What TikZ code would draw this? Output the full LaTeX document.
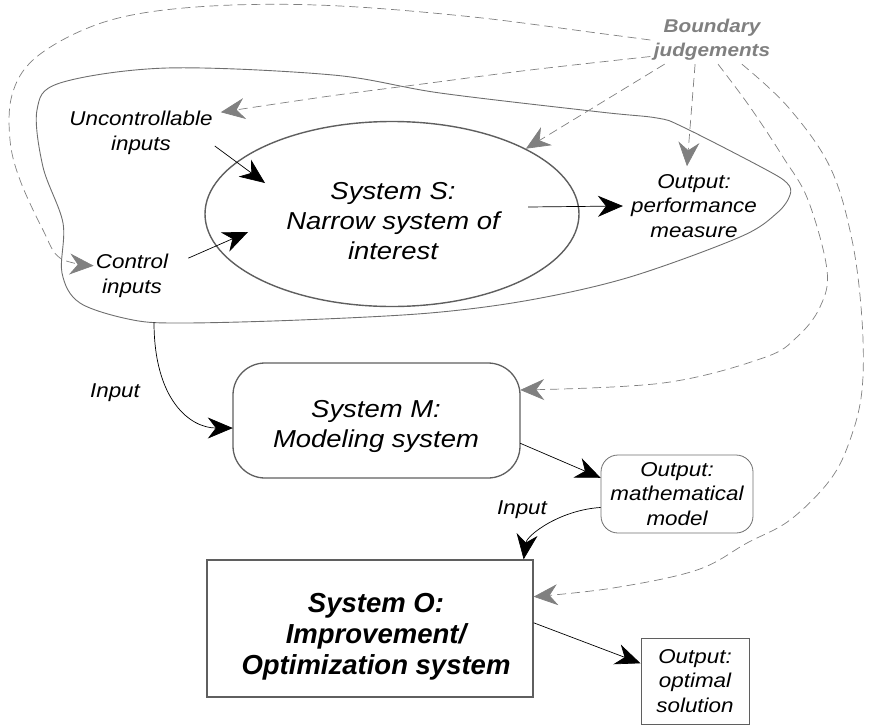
\documentclass[tikz,border=0pt]{standalone}
\usepackage{fontspec}
\setmainfont{Liberation Sans}[FakeStretch=1.12]
\newfontfamily\optfont{Liberation Sans}
\usetikzlibrary{arrows.meta, shapes.geometric}

\definecolor{judgegrey}{RGB}{128,128,128}
\definecolor{edgegrey}{RGB}{95,95,95}
\definecolor{wallgrey}{RGB}{110,110,110}

\tikzset{
    lbl/.style={font=\itshape\fontsize{20}{24.5}\selectfont, align=center, inner sep=2pt},
    bigtxt/.style={font=\itshape\fontsize{24.5}{30}\selectfont, align=center},
    flow/.style={-{Stealth[length=25pt,width=21pt,inset=8pt]}, line width=0.7pt},
    judge/.style={-{Stealth[length=24pt,width=21pt,inset=8pt]}, judgegrey,
        line width=0.7pt, dash pattern=on 9pt off 5pt}
}

\begin{document}
\begin{tikzpicture}[x=1pt, y=-1pt]
        \useasboundingbox (0,0) rectangle (870,726);

        % wider system boundary
        \draw[wallgrey, line width=0.9pt]
            plot[smooth cycle, tension=0.55] coordinates {
            (60,83) (167,68) (333,75) (440,93) (600,112) (657,118) (683,127)
            (763,168) (787,183) (790,195) (777,213) (740,237) (630,277)
            (530,300) (430,313) (300,320) (184,323) (133,320) (80,303)
            (62,273) (63,223) (43,167) (37,110)};

        \node[
            ellipse,
            draw=edgegrey,
            line width=1.4pt,
            minimum width=374pt,
            minimum height=185pt,
            inner sep=0pt
        ] (sys) at (392,214) {};
        \node[bigtxt] (systxt) at (393,221) {System S:\\Narrow system of\\interest};

        \node[lbl] (unc) at (141,133) {Uncontrollable\\inputs};
        \node[lbl] (ctrl) at (132,276) {Control\\inputs};
        \node[lbl, inner sep=8pt] (perf) at (694,206) {Output:\\performance\\measure};
        \node[
            font=\bfseries\itshape\fontsize{18.5}{24}\selectfont,
            text=judgegrey,
            align=center
        ] (bj) at (712,40) {Boundary\\judgements};

        \draw[
            draw=edgegrey,
            line width=1.3pt,
            rounded corners=32pt
        ] (233,363) rectangle (520,478);
        \node[
            minimum width=287pt,
            minimum height=115pt
        ] (modl) at (376.5,420.5) {};
        \node[bigtxt] (mtxt) at (376,426) {System M:\\Modeling system};

        \node[
            lbl,
            draw=wallgrey,
            line width=0.8pt,
            rounded corners=17pt,
            minimum width=152pt,
            minimum height=78pt
        ] (mout) at (677,494) {Output:\\mathematical\\model};

        \node[
            draw=edgegrey,
            line width=1.3pt,
            minimum width=326pt,
            minimum height=137pt
        ] (opt) at (370,628.5) {};
        \node[
            font=\optfont\bfseries\itshape\fontsize{27.5}{31}\selectfont,
            align=center
        ] (otxt) at (376,637) {System O:\\Improvement/\\Optimization system};

        \node[
            lbl,
            draw=edgegrey,
            line width=1pt,
            minimum width=108pt,
            minimum height=86pt
        ] (oout) at (695,681) {Output:\\optimal\\solution};

        \node[lbl] (inp1) at (115,393) {Input};
        \node[lbl] (inp2) at (522,510) {Input};

        \coordinate (sin1) at (265,183);
        \coordinate (sout) at (528,207);
        \coordinate (wsout) at (154,322);

        % flows
        \draw[flow] (unc.-10) -- (sin1);
        \draw[flow] ([xshift=18pt]ctrl.25) -- (248,232);
        \draw[flow] (sout) -- (perf.west);
        \draw[flow] (wsout) .. controls (154,400) and (190,428) .. (modl.183);
        \draw[flow] (modl.-9) -- (mout.168);
        \draw[flow] (mout.190) .. controls (560,510) and (527,535) .. ([xshift=-10pt]opt.north east);
        \draw[flow] (opt.2) -- (oout.162);

        % boundary judgements
        \draw[judge] plot[smooth, tension=0.6] coordinates {
            (bj.west) (597,33) (473,17) (340,6) (233,5) (143,13) (83,30)
            (33,60) (12,95) (10,140) (20,180) (43,230) (60,258) (ctrl.165)};
        \draw[judge] plot[smooth, tension=0.6] coordinates {
            (bj.195) (530,70) (430,83) (330,96)
            ([xshift=6pt,yshift=-3pt]unc.north east)};
        \draw[judge] (bj.207) -- (sys.26);
        \draw[judge] (bj.235) -- (perf.100);
        \draw[judge] plot[smooth, tension=0.6] coordinates {
            (bj.284) (750,107) (783,157) (808,200) (827,270) (820,307)
            (797,337) (763,358) (663,383) (modl.12)};
        \draw[judge] plot[smooth, tension=0.6] coordinates {
            (bj.321) (788,107) (830,167) (852,240) (862,320) (862,390)
            (850,440) (830,480) (790,520) (747,543) (697,570) (613,588)
            (opt.11)};
    \end{tikzpicture}
\end{document}
